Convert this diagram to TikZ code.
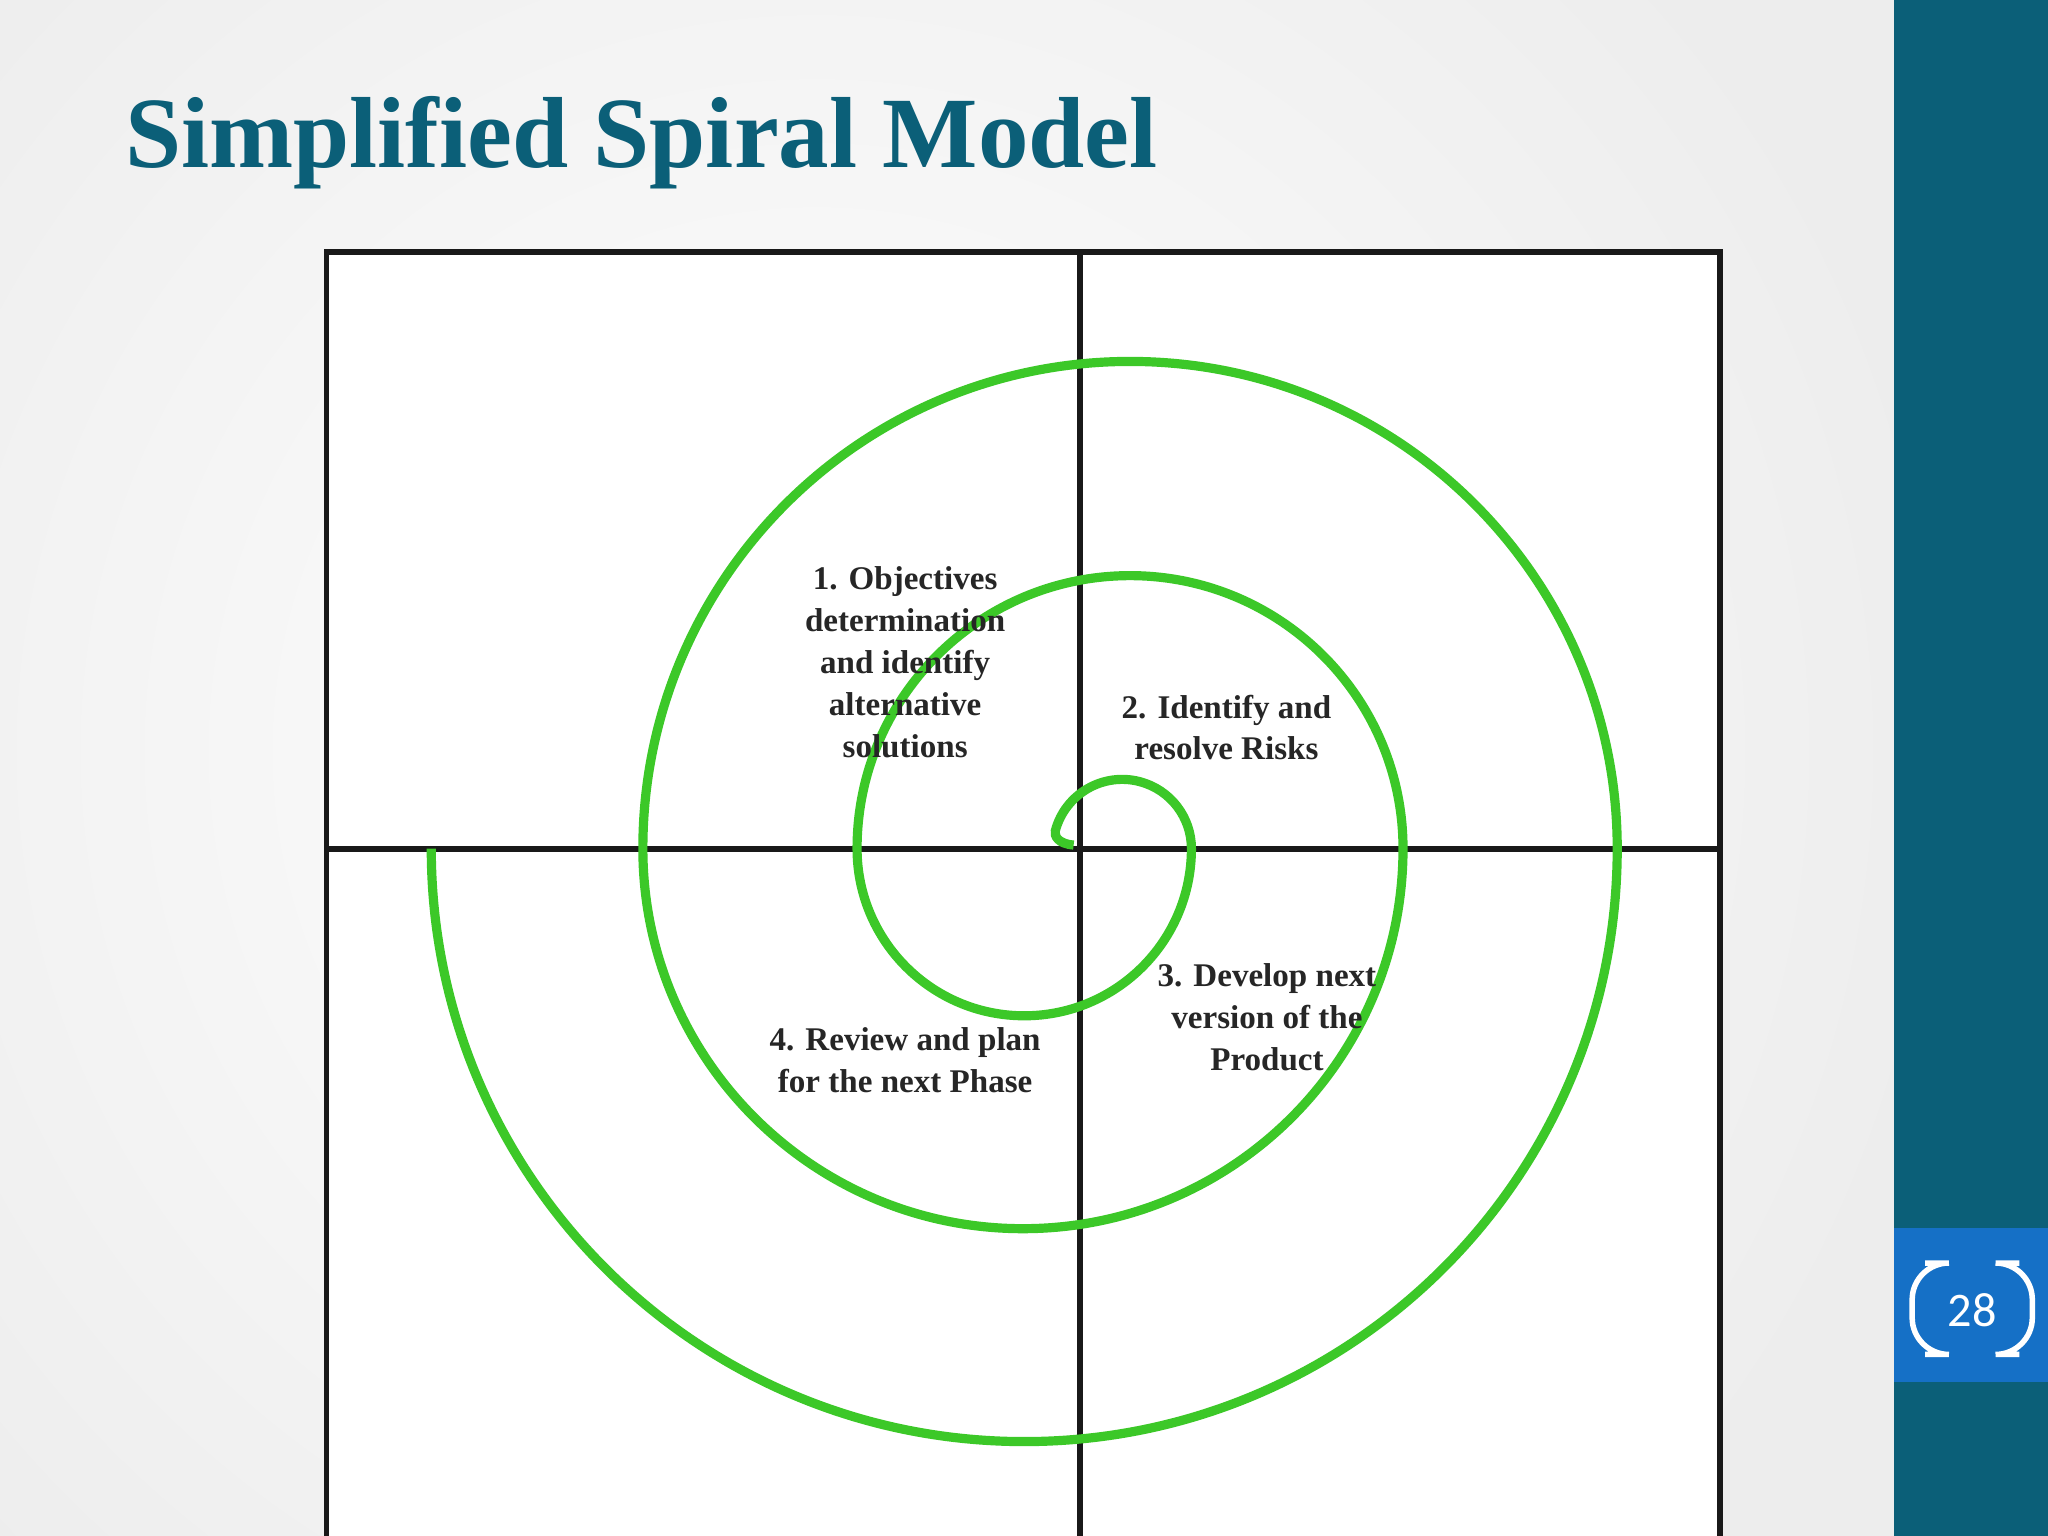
\documentclass[tikz,border=0pt]{standalone}
\usepackage{fontspec}
\usepackage{graphicx}
\setmainfont{Liberation Serif}
\newfontfamily\numfont{Carlito}
\definecolor{teal1}{HTML}{0B5F78}
\definecolor{blue1}{HTML}{1570C6}
\definecolor{spiralg}{HTML}{3CC828}
\tikzset{lbl/.style={font=\fontsize{7.2pt}{9.1pt}\selectfont\bfseries, align=center, text=black!85},
 frame/.style={line width=1.2pt, black!90}}
\begin{document}
\begin{tikzpicture}[x=0.01cm,y=-0.01cm]
\useasboundingbox (0,0) rectangle (1568,1176);
\shade[inner color=white, outer color=gray!14] (-250,-300) rectangle (1500,1450);
\fill[teal1] (1450,0) rectangle (1568,1176);
\fill[blue1] (1450,940) rectangle (1568,1058);
\draw[white, line width=1.2pt, rounded corners=8] (1474,967) -- (1464,967) -- (1464,1037) -- (1474,1037);
\draw[white, line width=1.2pt, rounded corners=8] (1546,967) -- (1556,967) -- (1556,1037) -- (1546,1037);
\node[font=\numfont\fontsize{10.5pt}{12pt}\selectfont, text=white] (pg) at (1510,1003) {28};
\node[anchor=base west, inner sep=0, text=teal1] (title) at (95,128) {\resizebox{7.9cm}{!}{\bfseries Simplified Spiral Model}};
\fill[white] (250,193) rectangle (1317,1176);
\draw[frame] (250,1180) -- (250,193) -- (1317,193) -- (1317,1180);
\draw[frame] (827,193) -- (827,1180);
\draw[frame] (250,650) -- (1317,650);
\draw[spiralg, line width=2pt] (822,647) .. controls (810,646) and (807,640) .. (808,636)
 arc[start angle=195,end angle=360,radius=53]
 arc[start angle=0,end angle=180,radius=128]
 arc[start angle=180,end angle=360,radius=209]
 arc[start angle=0,end angle=180,radius=291]
 arc[start angle=180,end angle=360,radius=373]
 arc[start angle=0,end angle=180,radius=454];
\node[lbl] (l1) at (693,507) {1. Objectives\\determination\\and identify\\alternative\\solutions};
\node[lbl] (l2) at (939,557) {2. Identify and\\resolve Risks};
\node[lbl] (l3) at (970,779) {3. Develop next\\version of the\\Product};
\node[lbl] (l4) at (693,812) {4. Review and plan\\for the next Phase};
\end{tikzpicture}
\end{document}
